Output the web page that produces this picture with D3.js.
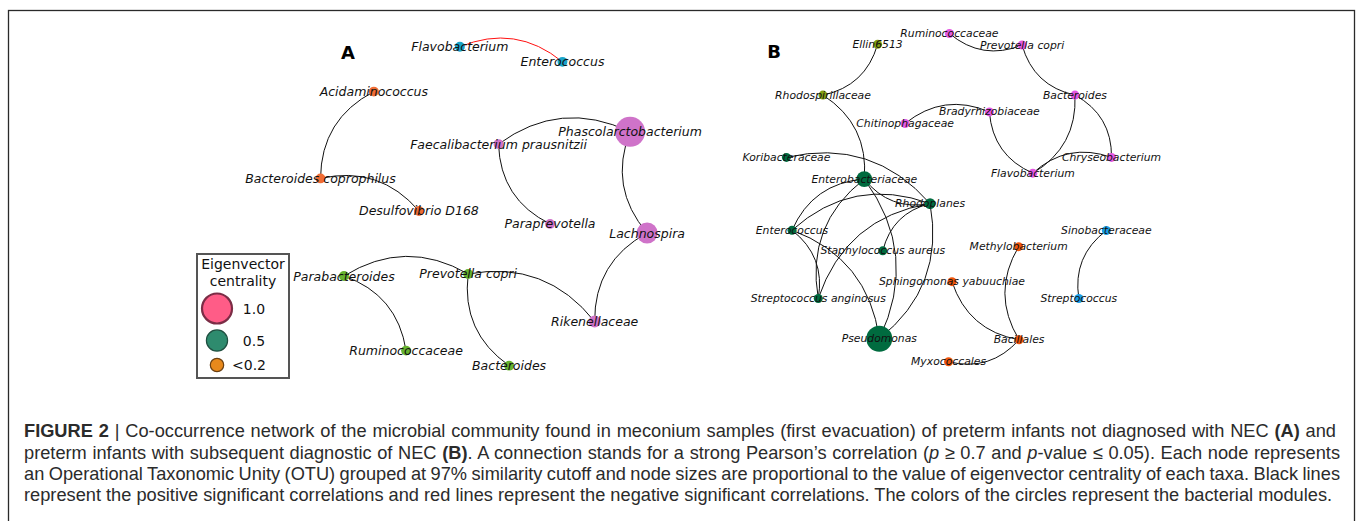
<!DOCTYPE html>
<html>
<head>
<meta charset="utf-8">
<script src="https://cdn.jsdelivr.net/npm/d3@7"></script>
<style>
  html, body { margin: 0; padding: 0; background: #fff; }
  svg { display: block; }
</style>
</head>
<body>
<svg id="chart" width="1358" height="521"></svg>
<script>
// ---------------- DATA ----------------
// Panel A: preterm infants not diagnosed with NEC (layout coordinates 0-100)
const nodesA = [
  { name: "Flavobacterium",               x: 47.8, y: 95.2, module: "A1", centrality: 0.11 },
  { name: "Enterococcus",                 x: 70.1, y: 90.9, module: "A1", centrality: 0.11 },
  { name: "Acidaminococcus",              x: 29.1, y: 82.4, module: "A2", centrality: 0.11 },
  { name: "Phascolarctobacterium",        x: 84.8, y: 70.9, module: "A3", centrality: 1.0 },
  { name: "Faecalibacterium prausnitzii", x: 56.2, y: 67.4, module: "A3", centrality: 0.11 },
  { name: "Bacteroides coprophilus",      x: 17.5, y: 57.6, module: "A2", centrality: 0.11 },
  { name: "Desulfovibrio D168",           x: 38.9, y: 48.3, module: "A2", centrality: 0.11 },
  { name: "Paraprevotella",               x: 67.4, y: 44.6, module: "A3", centrality: 0.11 },
  { name: "Lachnospira",                  x: 88.5, y: 42.0, module: "A3", centrality: 0.49 },
  { name: "Parabacteroides",              x: 22.6, y: 29.7, module: "A4", centrality: 0.11 },
  { name: "Prevotella copri",             x: 49.6, y: 30.3, module: "A4", centrality: 0.11 },
  { name: "Rikenellaceae",                x: 77.1, y: 16.7, module: "A3", centrality: 0.16 },
  { name: "Ruminococcaceae",              x: 36.1, y: 8.4,  module: "A4", centrality: 0.11 },
  { name: "Bacteroides",                  x: 58.5, y: 4.1,  module: "A4", centrality: 0.11 }
];
const edgesA = [
  ["Enterococcus", "Flavobacterium", "negative"],
  ["Acidaminococcus", "Bacteroides coprophilus", "positive"],
  ["Desulfovibrio D168", "Bacteroides coprophilus", "positive"],
  ["Phascolarctobacterium", "Faecalibacterium prausnitzii", "positive"],
  ["Faecalibacterium prausnitzii", "Paraprevotella", "positive"],
  ["Phascolarctobacterium", "Lachnospira", "positive"],
  ["Lachnospira", "Rikenellaceae", "positive"],
  ["Prevotella copri", "Parabacteroides", "positive"],
  ["Ruminococcaceae", "Parabacteroides", "positive"],
  ["Rikenellaceae", "Prevotella copri", "positive"],
  ["Prevotella copri", "Bacteroides", "positive"]
];

// Panel B: preterm infants with subsequent diagnostic of NEC
const nodesB = [
  { name: "Ellin6513",               x: 32.0, y: 95.9, module: "B1", centrality: 0.09 },
  { name: "Ruminococcaceae",         x: 48.7, y: 99.0, module: "B2", centrality: 0.09 },
  { name: "Prevotella copri",        x: 65.6, y: 95.7, module: "B2", centrality: 0.09 },
  { name: "Rhodospirillaceae",       x: 19.3, y: 81.4, module: "B1", centrality: 0.09 },
  { name: "Bacteroides",             x: 77.9, y: 81.4, module: "B2", centrality: 0.09 },
  { name: "Bradyrhizobiaceae",       x: 58.0, y: 76.6, module: "B2", centrality: 0.09 },
  { name: "Chitinophagaceae",        x: 38.4, y: 73.3, module: "B2", centrality: 0.09 },
  { name: "Koribacteraceae",         x: 10.8, y: 63.6, module: "B3", centrality: 0.09 },
  { name: "Chryseobacterium",        x: 86.4, y: 63.6, module: "B2", centrality: 0.09 },
  { name: "Enterobacteriaceae",      x: 28.9, y: 57.4, module: "B3", centrality: 0.28 },
  { name: "Flavobacterium",          x: 68.1, y: 59.1, module: "B2", centrality: 0.09 },
  { name: "Rhodoplanes",             x: 44.2, y: 50.4, module: "B3", centrality: 0.13 },
  { name: "Enterococcus",            x: 12.1, y: 42.8, module: "B3", centrality: 0.09 },
  { name: "Staphylococcus aureus",   x: 33.2, y: 36.9, module: "B3", centrality: 0.09 },
  { name: "Sinobacteraceae",         x: 85.2, y: 42.7, module: "B4", centrality: 0.09 },
  { name: "Methylobacterium",        x: 64.8, y: 38.1, module: "B5", centrality: 0.09 },
  { name: "Sphingomonas yabuuchiae", x: 49.3, y: 28.1, module: "B5", centrality: 0.09 },
  { name: "Streptococcus anginosus", x: 18.2, y: 23.3, module: "B3", centrality: 0.09 },
  { name: "Streptococcus",           x: 78.8, y: 23.3, module: "B4", centrality: 0.09 },
  { name: "Pseudomonas",             x: 32.4, y: 11.8, module: "B3", centrality: 0.75 },
  { name: "Bacillales",              x: 64.9, y: 11.5, module: "B5", centrality: 0.09 },
  { name: "Myxococcales",            x: 48.5, y: 5.2,  module: "B5", centrality: 0.09 }
];
const edgesB = [
  ["Rhodospirillaceae", "Ellin6513", "positive"],
  ["Ruminococcaceae", "Prevotella copri", "positive"],
  ["Prevotella copri", "Bacteroides", "positive"],
  ["Bradyrhizobiaceae", "Chitinophagaceae", "positive"],
  ["Bradyrhizobiaceae", "Flavobacterium", "positive"],
  ["Flavobacterium", "Bacteroides", "positive"],
  ["Chryseobacterium", "Bacteroides", "positive"],
  ["Chryseobacterium", "Flavobacterium", "positive"],
  ["Enterobacteriaceae", "Rhodospirillaceae", "positive"],
  ["Rhodoplanes", "Koribacteraceae", "positive"],
  ["Pseudomonas", "Rhodoplanes", "positive"],
  ["Pseudomonas", "Enterobacteriaceae", "positive"],
  ["Enterobacteriaceae", "Enterococcus", "positive"],
  ["Rhodoplanes", "Enterococcus", "positive"],
  ["Streptococcus anginosus", "Enterococcus", "positive"],
  ["Enterobacteriaceae", "Streptococcus anginosus", "positive"],
  ["Rhodoplanes", "Streptococcus anginosus", "positive"],
  ["Pseudomonas", "Enterococcus", "positive"],
  ["Rhodoplanes", "Staphylococcus aureus", "positive"],
  ["Enterobacteriaceae", "Rhodoplanes", "positive"],
  ["Sphingomonas yabuuchiae", "Bacillales", "positive"],
  ["Methylobacterium", "Bacillales", "positive"],
  ["Myxococcales", "Bacillales", "positive"],
  ["Sinobacteraceae", "Streptococcus", "positive"]
];

const modules = ["A1", "A2", "A3", "A4", "B1", "B2", "B3", "B4", "B5"];
const moduleColors = ["#19a4c9", "#f06d35", "#cf73c9", "#66b32e", "#83a010", "#e458e2", "#006b3f", "#1a9de6", "#f0540a"];

const legendValues = [1.0, 0.5, 0.2];
const legendLabels = ["1.0", "0.5", "<0.2"];
const legendFills = ["#ff5c87", "#2e8b6e", "#e8891c"];
const legendStrokes = ["#7b2d46", "#1f4f40", "#6b4012"];

const correlationTypes = ["positive", "negative"];
const correlationColors = ["#111111", "#ff1010"];

const captionLines = [
  [["FIGURE 2", "b"], [" | ", ""], ["Co-occurrence network of the microbial community found in meconium samples (first evacuation) of preterm infants not diagnosed with NEC ", ""], ["(A)", "b"], [" and", ""]],
  [["preterm infants with subsequent diagnostic of NEC ", ""], ["(B)", "b"], [". A connection stands for a strong Pearson\u2019s correlation (", ""], ["p", "i"], [" \u2265 0.7 and ", ""], ["p", "i"], ["-value \u2264 0.05). Each node represents", ""]],
  [["an Operational Taxonomic Unity (OTU) grouped at 97% similarity cutoff and node sizes are proportional to the value of eigenvector centrality of each taxa. Black lines", ""]],
  [["represent the positive significant correlations and red lines represent the negative significant correlations. The colors of the circles represent the bacterial modules.", ""]]
];

// ---------------- DRAW ----------------
const svg = d3.select("#chart");

svg.append("rect")
  .attr("x", 8.5).attr("y", 10.5)
  .attr("width", 1346).attr("height", 530)
  .attr("fill", "none").attr("stroke", "#2a2a2a").attr("stroke-width", 1.3);

const color = d3.scaleOrdinal().domain(modules).range(moduleColors);
const edgeColor = d3.scaleOrdinal().domain(correlationTypes).range(correlationColors);
const rScale = d3.scaleSqrt().domain([0, 1]).range([0, 15]);

function drawPanel(nodes, edges, xRange, letter, letterPos, fontSize) {
  const x = d3.scaleLinear().domain([0, 100]).range(xRange);
  const y = d3.scaleLinear().domain([0, 100]).range([380, 30]);
  const byName = new Map(nodes.map(d => [d.name, d]));
  const g = svg.append("g");
  const rad = 0.3;

  g.selectAll("path.edge").data(edges).join("path")
    .attr("class", "edge")
    .attr("fill", "none")
    .attr("stroke", d => edgeColor(d[2]))
    .attr("stroke-width", 1)
    .attr("d", d => {
      const s = byName.get(d[0]), t = byName.get(d[1]);
      const x1 = x(s.x), y1 = y(s.y), x2 = x(t.x), y2 = y(t.y);
      const dx = x2 - x1, dy = y2 - y1;
      const mx = (x1 + x2) / 2, my = (y1 + y2) / 2;
      const p = d3.path();
      p.moveTo(x1, y1);
      p.quadraticCurveTo(mx - rad * dy, my + rad * dx, x2, y2);
      return p.toString();
    });

  g.selectAll("circle.node").data(nodes).join("circle")
    .attr("class", "node")
    .attr("cx", d => x(d.x)).attr("cy", d => y(d.y))
    .attr("r", d => rScale(d.centrality))
    .attr("fill", d => color(d.module));

  g.selectAll("text.lbl").data(nodes).join("text")
    .attr("class", "lbl")
    .attr("x", d => x(d.x)).attr("y", d => y(d.y))
    .attr("text-anchor", "middle")
    .attr("dominant-baseline", "central")
    .attr("font-family", "DejaVu Sans")
    .attr("font-style", "italic")
    .attr("font-size", fontSize)
    .attr("fill", "#111")
    .text(d => d.name);

  g.append("text")
    .attr("x", letterPos[0]).attr("y", letterPos[1])
    .attr("text-anchor", "middle").attr("dominant-baseline", "central")
    .attr("font-family", "DejaVu Sans").attr("font-weight", "bold")
    .attr("font-size", 18).attr("fill", "#000")
    .text(letter);
}

drawPanel(nodesA, edgesA, [240, 700], "A", [348, 52], 12.5);
drawPanel(nodesB, edgesB, [740, 1170], "B", [774, 51], 10.8);

// Legend
const lg = svg.append("g");
lg.append("rect")
  .attr("x", 197).attr("y", 254).attr("width", 92).attr("height", 124)
  .attr("fill", "#fff").attr("stroke", "#555").attr("stroke-width", 2);
lg.selectAll("text.title").data(["Eigenvector", "centrality"]).join("text")
  .attr("class", "title")
  .attr("x", 243).attr("y", (d, i) => 264 + i * 17)
  .attr("text-anchor", "middle").attr("dominant-baseline", "central")
  .attr("font-family", "DejaVu Sans").attr("font-size", 14).attr("fill", "#111")
  .text(d => d);
const legendY = [308.5, 340.5, 365];
lg.selectAll("circle").data(legendValues).join("circle")
  .attr("cx", 217).attr("cy", (d, i) => legendY[i])
  .attr("r", d => rScale(d))
  .attr("fill", (d, i) => legendFills[i])
  .attr("stroke", (d, i) => legendStrokes[i])
  .attr("stroke-width", (d, i) => i === 0 ? 2.2 : 1.2);
lg.selectAll("text.val").data(legendLabels).join("text")
  .attr("class", "val")
  .attr("x", (d, i) => i === 2 ? 249 : 254)
  .attr("y", (d, i) => legendY[i])
  .attr("text-anchor", "middle").attr("dominant-baseline", "central")
  .attr("font-family", "DejaVu Sans").attr("font-size", 14).attr("fill", "#111")
  .text(d => d);

// Caption (justified lines; font size fitted on the last, unjustified line)
const capStart = 24;
const capEnds = [1336, 1340, 1340, 1332.5];
const capBase = [437, 458.5, 480, 501];
const baseSize = 15.5;
const capTexts = captionLines.map((segs, li) => {
  const t = svg.append("text")
    .attr("x", capStart).attr("y", capBase[li])
    .attr("font-family", "Liberation Sans, Arial, sans-serif")
    .attr("font-size", baseSize).attr("fill", "#2b2b2b");
  segs.forEach(s => {
    const ts = t.append("tspan").text(s[0]);
    if (s[1] === "b") ts.attr("font-weight", "bold");
    if (s[1] === "i") ts.attr("font-style", "italic");
  });
  return t;
});
const lastNat = capTexts[3].node().getComputedTextLength();
const fitSize = baseSize * (capEnds[3] - capStart) / lastNat;
capTexts.forEach((t, li) => {
  t.attr("font-size", fitSize);
  if (li === 3) return;
  const natural = t.node().getComputedTextLength();
  const spaces = captionLines[li].map(s => s[0]).join("").split(" ").length - 1;
  t.attr("word-spacing", (capEnds[li] - capStart - natural) / spaces);
});
</script>
</body>
</html>
